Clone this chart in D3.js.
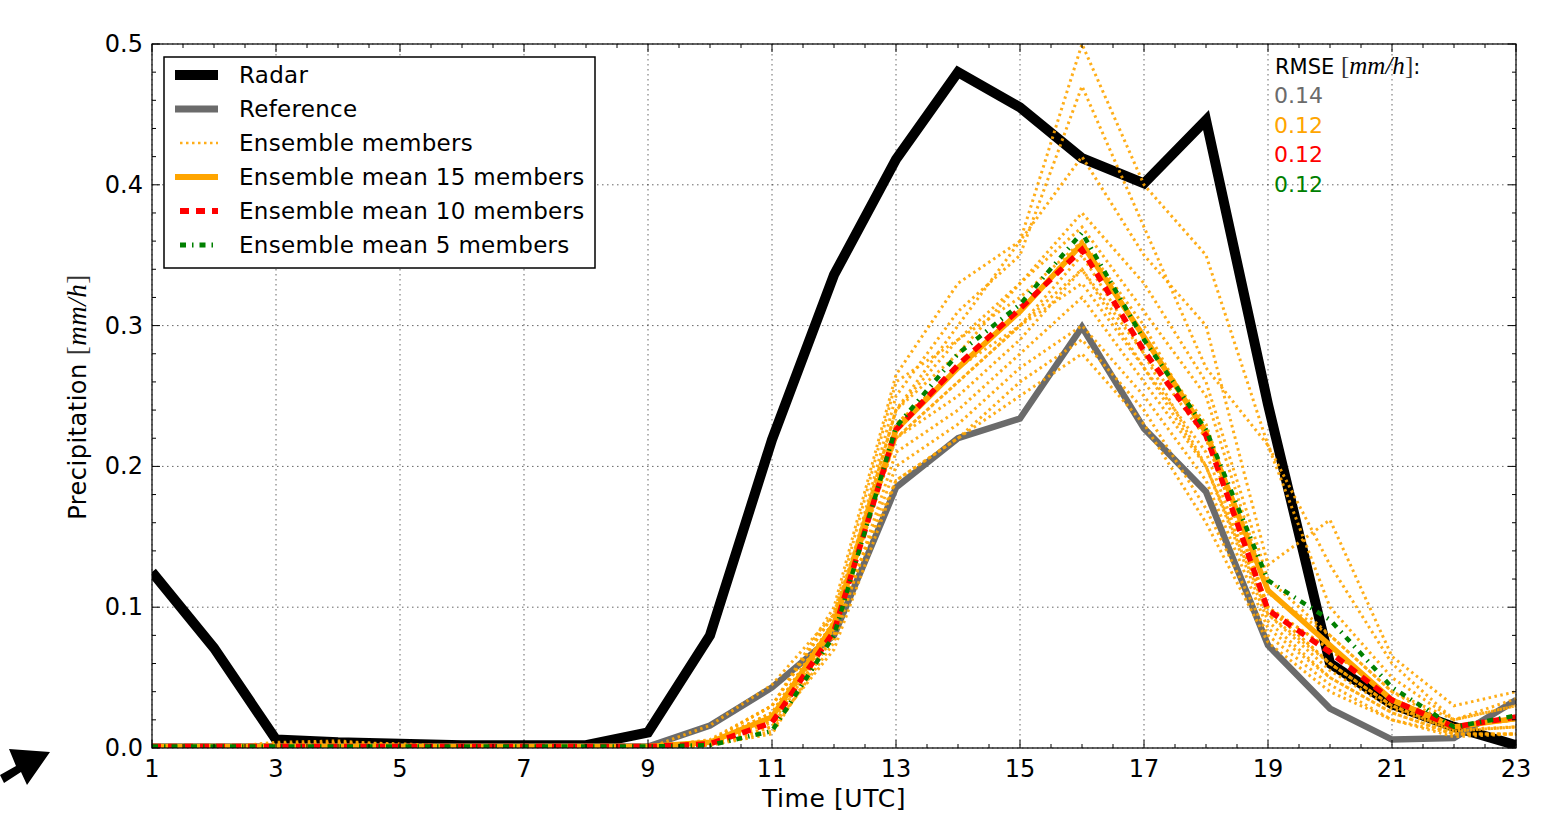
<!DOCTYPE html>
<html><head><meta charset="utf-8">
<script src="https://cdn.jsdelivr.net/npm/d3@7/dist/d3.min.js"></script>
<style>body{margin:0;background:#fff}svg{display:block}text{font-family:"DejaVu Sans",sans-serif}</style>
</head><body><svg id="c" width="1548" height="819"></svg>
<script>
const hours = [1,2,3,4,5,6,7,8,9,10,11,12,13,14,15,16,17,18,19,20,21,22,23];
const xTickLabels = [1,3,5,7,9,11,13,15,17,19,21,23];
const yTickLabels = [0.0,0.1,0.2,0.3,0.4,0.5];

const radar     = [0.125,0.071,0.006,0.004,0.003,0.002,0.002,0.002,0.011,0.080,0.219,0.336,0.418,0.480,0.455,0.419,0.401,0.446,0.244,0.060,0.031,0.015,0.002];
const reference = [0.001,0.001,0.001,0.001,0.001,0.001,0.001,0.001,0.001,0.016,0.043,0.080,0.185,0.220,0.234,0.299,0.227,0.182,0.073,0.028,0.006,0.007,0.034];
const mean15    = [0.001,0.001,0.001,0.001,0.001,0.001,0.001,0.001,0.001,0.004,0.022,0.088,0.226,0.270,0.310,0.358,0.292,0.224,0.112,0.073,0.034,0.015,0.021];
const mean10    = [0.001,0.001,0.001,0.001,0.001,0.001,0.001,0.001,0.001,0.003,0.018,0.083,0.226,0.272,0.312,0.354,0.282,0.222,0.098,0.068,0.034,0.015,0.022];
const mean5     = [0.001,0.001,0.001,0.001,0.001,0.001,0.001,0.001,0.001,0.002,0.012,0.080,0.228,0.280,0.315,0.366,0.290,0.226,0.119,0.091,0.043,0.015,0.023];

const member01 = [0,0,0.002,0.001,0.001,0,0,0,0,0.003,0.020,0.090,0.240,0.300,0.360,0.500,0.400,0.350,0.215,0.100,0.050,0.020,0.030];
const member02 = [0,0,0.001,0.002,0.001,0,0,0,0,0.002,0.015,0.085,0.250,0.310,0.350,0.470,0.370,0.270,0.215,0.130,0.060,0.020,0.035];
const member03 = [0,0,0.003,0.004,0.003,0.001,0,0,0,0.005,0.030,0.100,0.265,0.330,0.360,0.420,0.350,0.300,0.130,0.162,0.065,0.030,0.040];
const member04 = [0,0,0.004,0.005,0.002,0.001,0,0,0,0.016,0.045,0.095,0.260,0.290,0.330,0.380,0.330,0.260,0.120,0.080,0.040,0.020,0.030];
const member05 = [0,0,0.002,0.003,0.002,0,0,0,0,0.004,0.025,0.090,0.240,0.280,0.330,0.370,0.310,0.250,0.110,0.080,0.040,0.015,0.020];
const member06 = [0,0,0.001,0.001,0.001,0,0,0,0,0.002,0.010,0.080,0.230,0.270,0.310,0.360,0.290,0.230,0.100,0.070,0.035,0.015,0.020];
const member07 = [0,0,0.002,0.002,0.001,0,0,0,0,0.003,0.020,0.085,0.220,0.260,0.300,0.350,0.280,0.220,0.100,0.060,0.030,0.012,0.015];
const member08 = [0,0,0.001,0.003,0.002,0,0,0,0,0.006,0.030,0.095,0.220,0.250,0.290,0.340,0.270,0.210,0.095,0.055,0.028,0.012,0.015];
const member09 = [0,0,0.001,0.001,0.001,0,0,0,0,0.002,0.012,0.075,0.210,0.240,0.280,0.320,0.260,0.200,0.090,0.050,0.025,0.010,0.010];
const member10 = [0,0,0.002,0.002,0.001,0,0,0,0,0.003,0.018,0.080,0.200,0.230,0.270,0.300,0.250,0.190,0.085,0.050,0.025,0.010,0.010];
const member11 = [0,0,0.001,0.002,0.001,0,0,0,0,0.004,0.025,0.090,0.190,0.220,0.260,0.290,0.240,0.170,0.080,0.045,0.020,0.010,0.010];
const member12 = [0,0,0.001,0.001,0.001,0,0,0,0,0.002,0.015,0.070,0.190,0.220,0.250,0.280,0.230,0.160,0.075,0.040,0.020,0.008,0.010];
const member13 = [0,0,0.002,0.003,0.002,0,0,0,0,0.005,0.030,0.095,0.230,0.270,0.300,0.330,0.270,0.200,0.100,0.060,0.030,0.015,0.020];
const member14 = [0,0,0.001,0.002,0.001,0,0,0,0,0.003,0.020,0.085,0.240,0.290,0.320,0.360,0.300,0.220,0.100,0.070,0.035,0.015,0.020];
const member15 = [0,0,0.002,0.002,0.001,0,0,0,0,0.004,0.025,0.090,0.220,0.260,0.300,0.340,0.280,0.200,0.095,0.060,0.030,0.013,0.015];
const members = [member01,member02,member03,member04,member05,member06,member07,member08,member09,member10,member11,member12,member13,member14,member15];

const legendLabels = ["Radar","Reference","Ensemble members","Ensemble mean 15 members","Ensemble mean 10 members","Ensemble mean 5 members"];
const rmseValues = ["0.14","0.12","0.12","0.12"];

const svg = d3.select("#c");
const L = 152, R = 1516, T = 44, B = 748;
const x = d3.scaleLinear().domain([1,23]).range([L,R]);
const y = d3.scaleLinear().domain([0,0.5]).range([B,T]);

// grid
const grid = svg.append("g");
grid.selectAll("line.gx").data(xTickLabels).join("line")
  .attr("x1", d=>x(d)).attr("x2", d=>x(d)).attr("y1", T).attr("y2", B)
  .attr("stroke","#000").attr("stroke-width",1).attr("stroke-dasharray","1.5,3.5").attr("opacity",0.6);
grid.selectAll("line.gy").data(yTickLabels).join("line")
  .attr("x1", L).attr("x2", R).attr("y1", d=>y(d)).attr("y2", d=>y(d))
  .attr("stroke","#000").attr("stroke-width",1).attr("stroke-dasharray","1.5,3.5").attr("opacity",0.6);

svg.append("defs").append("clipPath").attr("id","clip").append("rect")
  .attr("x",L).attr("y",T).attr("width",R-L).attr("height",B-T);

const plot = svg.append("g").attr("clip-path","url(#clip)");
const line = d3.line().x((d,i)=>x(hours[i])).y(d=>y(d));

const styles = {
  radar: {stroke:"#000", w:10, dash:null},
  ref: {stroke:"#6b6b6b", w:6.5, dash:null},
  member: {stroke:"#ffa500", w:3, dash:"2.5,3.5", op:0.9},
  m15: {stroke:"#ffa500", w:5.5, dash:null},
  m10: {stroke:"#ff0000", w:5.5, dash:"9,7"},
  m5: {stroke:"#008000", w:4.5, dash:"6,6,1.5,6"}
};
function draw(data, s){
  plot.append("path").datum(data).attr("d", line).attr("fill","none")
    .attr("stroke", s.stroke).attr("stroke-width", s.w)
    .attr("stroke-dasharray", s.dash).attr("stroke-linejoin","miter").attr("stroke-miterlimit",3)
    .attr("opacity", s.op || 1);
}
draw(radar, styles.radar);
draw(reference, styles.ref);
members.forEach(m => draw(m, styles.member));
draw(mean15, styles.m15);
draw(mean10, styles.m10);
draw(mean5, styles.m5);

// frame
svg.append("rect").attr("x",L).attr("y",T).attr("width",R-L).attr("height",B-T)
  .attr("fill","none").attr("stroke","#000").attr("stroke-width",1.2);

// ticks (inward, all sides)
const xMinor = d3.range(1,23.01,0.5);
const yMinor = d3.range(0,0.5001,0.02);
const tk = svg.append("g").attr("stroke","#000").attr("stroke-width",1);
xMinor.forEach(v=>{
  const major = xTickLabels.includes(v);
  const len = major ? 8 : 4;
  tk.append("line").attr("x1",x(v)).attr("x2",x(v)).attr("y1",B).attr("y2",B-len);
  tk.append("line").attr("x1",x(v)).attr("x2",x(v)).attr("y1",T).attr("y2",T+len);
});
yMinor.forEach(v=>{
  const major = Math.abs(v*10 - Math.round(v*10)) < 1e-6;
  const len = major ? 8 : 4;
  tk.append("line").attr("x1",L).attr("x2",L+len).attr("y1",y(v)).attr("y2",y(v));
  tk.append("line").attr("x1",R).attr("x2",R-len).attr("y1",y(v)).attr("y2",y(v));
});

// tick labels
svg.selectAll("text.xl").data(xTickLabels).join("text")
  .attr("x", d=>x(d)).attr("y", B+29).attr("text-anchor","middle")
  .attr("font-size",24).text(d=>d);
svg.selectAll("text.yl").data(yTickLabels).join("text")
  .attr("x", L-9).attr("y", d=>y(d)+8).attr("text-anchor","end")
  .attr("font-size",24).text(d=>d.toFixed(1));

// axis labels
svg.append("text").attr("x", x(12)).attr("y", 807).attr("text-anchor","middle")
  .attr("font-size",25).attr("letter-spacing",0.6).text("Time [UTC]");
const yl = svg.append("text").attr("transform","translate(86,397) rotate(-90)")
  .attr("text-anchor","middle").attr("font-size",24).attr("letter-spacing",0.5);
yl.append("tspan").text("Precipitation ");
yl.append("tspan").attr("font-family","Liberation Serif").attr("font-size",27).attr("fill","#333").text("[");
yl.append("tspan").attr("font-family","Liberation Serif").attr("font-size",27).attr("font-style","italic").text("mm/h");
yl.append("tspan").attr("font-family","Liberation Serif").attr("font-size",27).attr("fill","#333").text("]");

// legend
const lg = svg.append("g");
lg.append("rect").attr("x",164).attr("y",57).attr("width",431).attr("height",211)
  .attr("fill","#fff").attr("stroke","#000").attr("stroke-width",1.5);
const legStyles = [styles.radar, styles.ref, styles.member, styles.m15, styles.m10, styles.m5];
const legW = [10, 7, 2.5, 6, 6, 5];
legendLabels.forEach((lab,i)=>{
  const yy = 75 + i*34;
  const s = legStyles[i];
  lg.append("line").attr("x1", s===styles.member||s===styles.m10||s===styles.m5 ? 180 : 175).attr("x2", 218).attr("y1",yy).attr("y2",yy)
    .attr("stroke",s.stroke).attr("stroke-width",legW[i]).attr("stroke-dasharray",s.dash).attr("opacity", s.op||1);
  lg.append("text").attr("x",239).attr("y",yy+8).attr("font-size",23).attr("letter-spacing",0.3).text(lab);
});

// RMSE annotation
const rt = svg.append("text").attr("x",1275).attr("y",74).attr("font-size",21);
rt.append("tspan").text("RMSE ");
rt.append("tspan").attr("font-family","Liberation Serif").attr("font-size",25).attr("fill","#333").text("[");
rt.append("tspan").attr("font-family","Liberation Serif").attr("font-size",25).attr("font-style","italic").text("mm/h");
rt.append("tspan").attr("font-family","Liberation Serif").attr("font-size",25).attr("fill","#333").text("]");
rt.append("tspan").text(":");
const rmseColors = ["#6b6b6b","#ffa500","#ff0000","#008000"];
rmseValues.forEach((v,i)=>{
  svg.append("text").attr("x",1274).attr("y",103 + i*29.5).attr("font-size",22)
    .attr("fill",rmseColors[i]).text(v);
});

// arrow (bottom-left)
svg.append("path").attr("d","M0,775 L16,766 L9,749 L50,752 L27,785 L21,772 L4,783 Z").attr("fill","#000");
</script></body></html>
